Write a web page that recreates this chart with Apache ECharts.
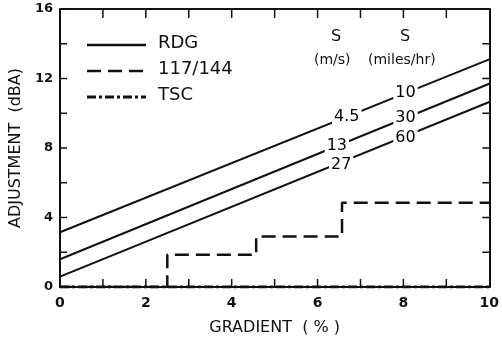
<!DOCTYPE html>
<html><head><meta charset="utf-8">
<script src="https://cdn.jsdelivr.net/npm/echarts@6/dist/echarts.min.js"></script>
<style>html,body{margin:0;padding:0;background:#fff}#c{width:502px;height:345px}</style>
</head><body><div id="c"></div>
<script>
// RDG lines: [gradient, adjustment] endpoints
const rdgLine1 = [[0, 3.15], [10, 13.1]];
const rdgLine2 = [[0, 1.6], [10, 11.7]];
const rdgLine3 = [[0, 0.6], [10, 10.65]];
// 117/144 step line
const stepX = [0, 2.5, 2.5, 4.57, 4.57, 6.57, 6.57, 10];
const stepY = [0, 0, 1.85, 1.85, 2.9, 2.9, 4.85, 4.85];
// TSC
const tscLine = [[0, 0], [10, 0]];
// speed labels on lines: [x, y, text]
const speedLabels = [
  [6.68, 9.82, '4.5'], [8.05, 11.15, '10'],
  [6.45, 8.1, '13'], [8.05, 9.75, '30'],
  [6.55, 7.05, '27'], [8.05, 8.6, '60']
];
const legendNames = ['RDG', '117/144', 'TSC'];
const xTickVals = [1, 2, 3, 4, 5, 6, 7, 8, 9];
const yTickVals = [0, 2, 4, 6, 8, 10, 12, 14, 16];
const xTicks = [0, 2, 4, 6, 8, 10];
const yTicks = [0, 4, 8, 12, 16];

const FONT = 'DejaVu Sans';
const W = 502, H = 345;
const GRID = {left: 56, top: 9, right: 9, bottom: 58};
const X_MIN = 0, X_MAX = 10, Y_MIN = 0, Y_MAX = 16;
const chart = echarts.init(document.getElementById('c'), null, {renderer: 'canvas'});
const stepData = stepX.map((x, i) => [x, stepY[i]]);
const lineStyleRDG = {color: '#111', width: 2, type: 'solid'};
const dashStep = [14, 7];
const dashTSC = [9, 3, 3, 3];

// tick length in pixels converted to y-data units
const plotH = H - GRID.top - GRID.bottom;
const bottomTickLen = 8 / plotH * (Y_MAX - Y_MIN);
const topTickLen = 9 / plotH * (Y_MAX - Y_MIN);
const bottomTickData = [];
const topTickData = [];
xTickVals.forEach(v => {
  bottomTickData.push([v, Y_MIN], [v, Y_MIN + bottomTickLen], [v, '-']);
  topTickData.push([v, Y_MAX], [v, Y_MAX - topTickLen], [v, '-']);
});

function axisCommon(extra) {
  return Object.assign({
    axisLine: {show: true, onZero: false, lineStyle: {color: '#111', width: 2}},
    axisTick: {show: false},
    splitLine: {show: false}
  }, extra);
}

const legendGraphics = [];
const legendStyles = [
  {stroke: '#111', lineWidth: 2.5},
  {stroke: '#111', lineWidth: 2.5, lineDash: dashStep},
  {stroke: '#111', lineWidth: 3, lineDash: dashTSC}
];
legendNames.forEach((n, i) => {
  const y = 45 + i * 26;
  legendGraphics.push({type: 'line', shape: {x1: 87, y1: y, x2: 146, y2: y}, style: legendStyles[i]});
  legendGraphics.push({type: 'text', left: 158, top: y - 11,
    style: {text: n, font: '18px "DejaVu Sans"', fill: '#111'}});
});
const headerGraphics = [
  {type: 'text', left: 331, top: 29, style: {text: 'S', font: '16px "DejaVu Sans"', fill: '#111'}},
  {type: 'text', left: 400, top: 29, style: {text: 'S', font: '16px "DejaVu Sans"', fill: '#111'}},
  {type: 'text', left: 314, top: 53, style: {text: '(m/s)', font: '14px "DejaVu Sans"', fill: '#111'}},
  {type: 'text', left: 368, top: 53, style: {text: '(miles/hr)', font: '14px "DejaVu Sans"', fill: '#111'}}
];

const tickStyle = {stroke: '#111', lineWidth: 1.5};
function yTickRender(params, api) {
  const v = api.value(1);
  const l = api.coord([X_MIN, v]);
  const r = api.coord([X_MAX, v]);
  return {type: 'group', children: [
    {type: 'line', shape: {x1: l[0], y1: l[1], x2: l[0] + 7, y2: l[1]}, style: tickStyle},
    {type: 'line', shape: {x1: r[0], y1: r[1], x2: r[0] - 7, y2: r[1]}, style: tickStyle}
  ]};
}
const tickSeriesStyle = {color: '#111', width: 1.5, type: 'solid'};

chart.setOption({
  animation: false,
  backgroundColor: '#fff',
  grid: GRID,
  xAxis: [axisCommon({
    type: 'value', min: X_MIN, max: X_MAX, interval: 1, position: 'bottom',
    axisLabel: {margin: 9, color: '#111', fontFamily: FONT, fontSize: 14, fontWeight: 'bold',
      formatter: v => xTicks.includes(v) ? String(v) : ''},
    name: 'GRADIENT  ( % )', nameLocation: 'middle', nameGap: 33,
    nameTextStyle: {fontFamily: FONT, fontSize: 16, color: '#111'}
  }), axisCommon({
    type: 'value', min: X_MIN, max: X_MAX, interval: 1, position: 'top', axisLabel: {show: false}
  })],
  yAxis: [axisCommon({
    type: 'value', min: Y_MIN, max: Y_MAX, interval: 2, position: 'left',
    axisLabel: {margin: 7, color: '#111', fontFamily: FONT, fontSize: 13, fontWeight: 'bold',
      formatter: v => yTicks.includes(v) ? String(v) : ''},
    name: 'ADJUSTMENT  (dBA)', nameLocation: 'middle', nameGap: 32, nameRotate: 90,
    nameTextStyle: {fontFamily: FONT, fontSize: 16, color: '#111'}
  }), axisCommon({
    type: 'value', min: Y_MIN, max: Y_MAX, interval: 2, position: 'right', axisLabel: {show: false}
  })],
  series: [
    {name: 'RDG', type: 'line', data: rdgLine1, symbol: 'none', lineStyle: lineStyleRDG, z: 2},
    {name: 'RDG', type: 'line', data: rdgLine2, symbol: 'none', lineStyle: lineStyleRDG, z: 2},
    {name: 'RDG', type: 'line', data: rdgLine3, symbol: 'none', lineStyle: lineStyleRDG, z: 2},
    {name: '117/144', type: 'line', data: stepData, symbol: 'none',
      lineStyle: {color: '#111', width: 2.5, type: dashStep}, z: 3},
    {name: 'TSC', type: 'line', data: tscLine, symbol: 'none',
      lineStyle: {color: '#111', width: 3, type: dashTSC}, z: 3},
    {name: 'bottomTicks', type: 'line', data: bottomTickData, symbol: 'none', connectNulls: false,
      lineStyle: tickSeriesStyle, silent: true, z: 4},
    {name: 'topTicks', type: 'line', data: topTickData, symbol: 'none', connectNulls: false,
      lineStyle: tickSeriesStyle, silent: true, z: 4},
    {name: 'yticks', type: 'custom', data: yTickVals.map(v => [X_MIN, v]), renderItem: yTickRender,
      clip: false, silent: true, z: 4},
    {name: 'labels', type: 'scatter', data: speedLabels.map(d => ({value: [d[0], d[1]], name: d[2]})),
      symbolSize: 1, itemStyle: {opacity: 0}, z: 5, silent: true,
      label: {show: true, position: 'inside', formatter: p => p.name,
        fontFamily: FONT, fontSize: 16, color: '#000', opacity: 1,
        backgroundColor: '#fff', padding: [0, 2]}}
  ],
  graphic: legendGraphics.concat(headerGraphics)
});
</script></body></html>
